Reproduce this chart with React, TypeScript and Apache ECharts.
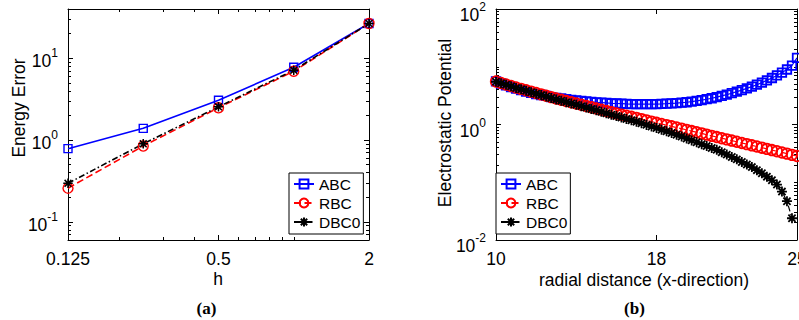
import React, { useEffect, useRef } from 'react';
import * as echarts from 'echarts';

// ---------- Data: panel (a) ----------
const hValues = [0.125, 0.25, 0.5, 1, 2];
const errABC = [0.785, 1.39, 3.07, 7.77, 26.6];
const errRBC = [0.258, 0.845, 2.48, 6.94, 26.6];
const errDBC0 = [0.296, 0.9, 2.55, 7.14, 26.6];

// ---------- Data: panel (b) ----------
const radial = [
  10, 10.25, 10.5, 10.75, 11, 11.25, 11.5, 11.75, 12, 12.25, 12.5, 12.75,
  13, 13.25, 13.5, 13.75, 14, 14.25, 14.5, 14.75, 15, 15.25, 15.5, 15.75,
  16, 16.25, 16.5, 16.75, 17, 17.25, 17.5, 17.75, 18, 18.25, 18.5, 18.75,
  19, 19.25, 19.5, 19.75, 20, 20.25, 20.5, 20.75, 21, 21.25, 21.5, 21.75,
  22, 22.25, 22.5, 22.75, 23, 23.25, 23.5, 23.75, 24, 24.25, 24.5, 24.75, 25,
];
const potABC = [
  5.56, 5.13, 4.77, 4.46, 4.18, 3.94, 3.73, 3.54, 3.37, 3.24, 3.12, 2.99,
  2.9, 2.82, 2.74, 2.68, 2.61, 2.56, 2.51, 2.46, 2.42, 2.39, 2.36, 2.33,
  2.31, 2.29, 2.27, 2.26, 2.25, 2.25, 2.25, 2.25, 2.26, 2.27, 2.29, 2.32,
  2.35, 2.39, 2.43, 2.49, 2.56, 2.65, 2.74, 2.85, 2.98, 3.13, 3.29, 3.48,
  3.7, 3.94, 4.22, 4.53, 4.89, 5.32, 5.8, 6.39, 7.08, 7.92, 8.96, 10.5, 14.2,
];
const potRBC = [
  5.56, 5.23, 4.93, 4.64, 4.37, 4.14, 3.92, 3.71, 3.51, 3.32, 3.15, 2.98,
  2.82, 2.68, 2.55, 2.43, 2.31, 2.2, 2.09, 1.99, 1.89, 1.8, 1.71, 1.63,
  1.55, 1.48, 1.42, 1.36, 1.3, 1.24, 1.18, 1.12, 1.07, 1.02, 0.975, 0.93,
  0.887, 0.846, 0.807, 0.769, 0.734, 0.7, 0.667, 0.636, 0.607, 0.579, 0.552, 0.527,
  0.503, 0.479, 0.457, 0.436, 0.416, 0.397, 0.378, 0.361, 0.344, 0.328, 0.313, 0.298, 0.285,
];
const potDBC0 = [
  5.5, 5.17, 4.87, 4.58, 4.3, 4.07, 3.84, 3.63, 3.42, 3.23, 3.06, 2.88,
  2.72, 2.58, 2.44, 2.32, 2.19, 2.08, 1.96, 1.86, 1.76, 1.66, 1.56, 1.48,
  1.4, 1.32, 1.25, 1.18, 1.12, 1.05, 0.985, 0.921, 0.868, 0.812, 0.761, 0.711,
  0.665, 0.618, 0.573, 0.531, 0.492, 0.456, 0.424, 0.393, 0.364, 0.331, 0.301, 0.274,
  0.249, 0.225, 0.203, 0.183, 0.162, 0.143, 0.125, 0.108, 0.0912, 0.0689, 0.047, 0.0238, null,
];

// ---------- Ticks ----------
const hTicks = [0.125, 0.5, 2];
const hTickLabels = ['0.125', '0.5', '2'];
const hMinor = [0.2, 0.3, 0.4, 0.6, 0.7, 0.8, 0.9, 1];
const errTicks = [0.1, 1, 10];
const errMinor = [
  0.06, 0.07, 0.08, 0.09, 0.2, 0.3, 0.4, 0.5, 0.6, 0.7, 0.8, 0.9,
  2, 3, 4, 5, 6, 7, 8, 9, 20, 30, 40,
];
const rTicks = [10, 18, 25];
const potTicks = [0.01, 1, 100];
const potMinor = [
  0.02, 0.03, 0.04, 0.05, 0.06, 0.07, 0.08, 0.09, 0.1,
  0.2, 0.3, 0.4, 0.5, 0.6, 0.7, 0.8, 0.9,
  2, 3, 4, 5, 6, 7, 8, 9, 10, 20, 30, 40, 50, 60, 70, 80, 90,
];
const seriesNames = ['ABC', 'RBC', 'DBC0'];

const FONT = '"Liberation Sans", Arial, Helvetica, sans-serif';
const BLUE = '#0000ff';
const RED = '#ff0000';
const BLACK = '#000000';
const STAR = 'path://M5 0L5 10M0 5L10 5M1.4 1.4L8.6 8.6M8.6 1.4L1.4 8.6';

const mkRich = (q: number, p: number) => ({
  b: { fontSize: 17.5, fontFamily: FONT, color: '#000', padding: [q, 0, 0, 0] },
  s: { fontSize: 12, fontFamily: FONT, color: '#000', padding: [0, 0, p, 0] },
});
const powFmt = (v: number) => `{b|10}{s|${Math.round(Math.log10(v))}}`;

function makeAxes(dim: 'x' | 'y', gridIndex: number, cfg: any) {
  const sides = dim === 'x' ? ['bottom', 'top'] : ['left', 'right'];
  const base = {
    type: cfg.type,
    gridIndex,
    min: cfg.min,
    max: cfg.max,
    ...(cfg.logBase ? { logBase: cfg.logBase } : {}),
    splitLine: { show: false },
    minorTick: { show: false },
    minorSplitLine: { show: false },
  };
  const axes: any[] = [];
  sides.forEach((side, i) => {
    axes.push({
      ...base,
      position: side,
      axisLine: { show: true, onZero: false, lineStyle: { color: '#000', width: 1 } },
      axisTick: { show: true, inside: true, length: 5, customValues: cfg.major, lineStyle: { color: '#000', width: 1 } },
      axisLabel: i === 0
        ? {
            show: true,
            customValues: cfg.major,
            formatter: cfg.formatter,
            margin: cfg.margin,
            color: '#000',
            fontFamily: FONT,
            fontSize: 17.5,
            lineHeight: cfg.lineHeight,
            rich: cfg.rich,
            hideOverlap: false,
          }
        : { show: false },
    });
  });
  sides.forEach((side) => {
    const hasMinor = cfg.minor && cfg.minor.length;
    axes.push({
      ...base,
      position: side,
      axisLine: { show: false, onZero: false },
      axisTick: hasMinor
        ? { show: true, inside: true, length: 3, customValues: cfg.minor, lineStyle: { color: '#000', width: 1 } }
        : { show: false },
      axisLabel: { show: false },
    });
  });
  return axes;
}

function mkSeries(name: string, data: any[], axIdx: number, style: any) {
  return {
    type: 'line',
    name,
    data,
    xAxisIndex: axIdx,
    yAxisIndex: axIdx,
    clip: false,
    showAllSymbol: true,
    symbol: style.symbol,
    symbolSize: style.size,
    lineStyle: { color: style.color, width: style.width, type: style.dash },
    itemStyle: { color: 'rgba(0,0,0,0)', borderColor: style.color, borderWidth: style.bw },
    emphasis: { disabled: true },
    silent: true,
  };
}

const styles: Record<string, any> = {
  ABC: { symbol: 'rect', size: 8, color: BLUE, width: 1.6, dash: 'solid', bw: 1.4 },
  RBC: { symbol: 'circle', size: 10, color: RED, width: 1.6, dash: [7, 3.5], bw: 1.4 },
  DBC0: { symbol: STAR, size: 9.5, color: BLACK, width: 1.6, dash: [6, 2.5, 1.5, 2.5], bw: 1.5 },
};

export default function App() {
  const ref = useRef<HTMLDivElement>(null);
  useEffect(() => {
    if (!ref.current) return;
    const chart = echarts.init(ref.current, undefined, { renderer: 'svg' });

    const xAxes = [
      ...makeAxes('x', 0, {
        type: 'log', logBase: 2, min: 0.125, max: 2, major: hTicks, minor: hMinor, margin: 10, lineHeight: 17,
        formatter: (v: number) => hTickLabels[hTicks.findIndex((t) => Math.abs(t - v) < 1e-9)] ?? '',
      }),
      ...makeAxes('x', 1, {
        type: 'value', min: 10, max: 25, major: rTicks, minor: [], margin: 10, lineHeight: 17,
        formatter: (v: number) => String(v),
      }),
    ];
    const yAxes = [
      ...makeAxes('y', 0, {
        type: 'log', logBase: 10, min: 0.06, max: 40, major: errTicks, minor: errMinor, margin: 10,
        formatter: powFmt, rich: mkRich(6, 10),
      }),
      ...makeAxes('y', 1, {
        type: 'log', logBase: 10, min: 0.01, max: 100, major: potTicks, minor: potMinor, margin: 10,
        formatter: powFmt, rich: mkRich(12, 4),
      }),
    ];
    const idx2 = 4; // first axis of grid 1

    const errSets: Record<string, number[]> = { ABC: errABC, RBC: errRBC, DBC0: errDBC0 };
    const potSets: Record<string, (number | null)[]> = { ABC: potABC, RBC: potRBC, DBC0: potDBC0 };

    const series: any[] = [];
    seriesNames.forEach((n) => {
      series.push(mkSeries(n, hValues.map((h, i) => [h, errSets[n][i]]), 0, styles[n]));
    });
    seriesNames.forEach((n) => {
      series.push(
        mkSeries(
          n,
          radial.map((r, i) => [r, potSets[n][i] == null ? '-' : potSets[n][i]]),
          idx2,
          { ...styles[n], width: 1.2, bw: 1.8, size: styles[n].size + 0.5 },
        ),
      );
    });

    const legendBase = {
      orient: 'vertical',
      top: 173,
      itemWidth: 20,
      itemHeight: 11,
      itemGap: 3,
      padding: [3, 3, 4, 4],
      borderColor: '#000',
      borderWidth: 1,
      backgroundColor: '#fff',
      borderRadius: 0,
      selectedMode: false,
      textStyle: { fontSize: 15.5, fontFamily: FONT, color: '#000' },
      data: seriesNames,
    };

    const txt = (x: number, y: number, text: string, extra: any = {}) => ({
      type: 'text',
      x,
      y,
      rotation: extra.rotation || 0,
      style: {
        text,
        fill: '#000',
        font: extra.font || `17.5px ${FONT}`,
        textAlign: 'center',
        textVerticalAlign: 'middle',
      },
    });

    chart.setOption({
      animation: false,
      backgroundColor: '#fff',
      grid: [
        { left: 68, top: 9, width: 301, height: 231, outerBoundsMode: 'none', containLabel: false },
        { left: 496, top: 9, width: 301, height: 231, outerBoundsMode: 'none', containLabel: false },
      ],
      xAxis: xAxes,
      yAxis: yAxes,
      legend: [
        { ...legendBase, left: 289 },
        { ...legendBase, left: 496 },
      ],
      series,
      graphic: [
        txt(218, 279, 'h'),
        txt(644, 280, 'radial distance (x-direction)'),
        txt(18.5, 108, 'Energy Error', { rotation: Math.PI / 2 }),
        txt(445, 123, 'Electrostatic Potential', { rotation: Math.PI / 2 }),
        txt(206.5, 308, '(a)', { font: `bold 17px "Liberation Serif", "DejaVu Serif", serif` }),
        txt(634.5, 308, '(b)', { font: `bold 17px "Liberation Serif", "DejaVu Serif", serif` }),
      ],
    });
    return () => chart.dispose();
  }, []);
  return (
    <div
      ref={ref}
      style={{ position: 'fixed', left: 0, top: 0, width: 799, height: 320, background: '#fff' }}
    />
  );
}
